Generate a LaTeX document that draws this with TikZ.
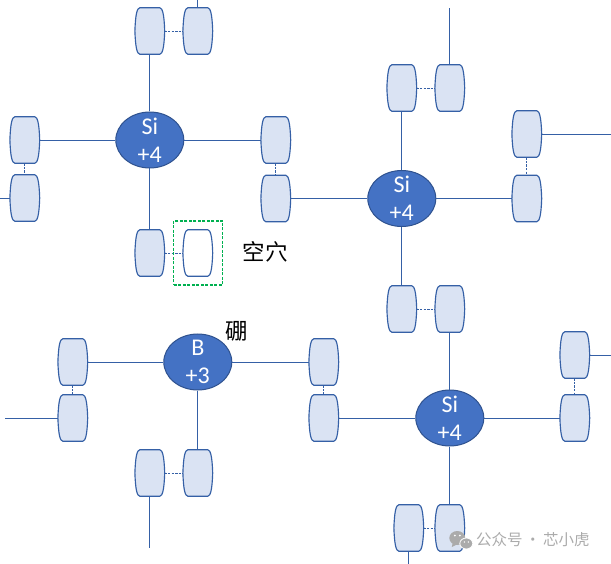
\documentclass[tikz,border=0pt]{standalone}
\usepackage{fontspec}
\setmainfont{Carlito}
\newfontfamily\cjk{Noto Sans CJK SC}
\usetikzlibrary{shapes.geometric}
\definecolor{lineblue}{HTML}{3560A6}
\definecolor{cellfill}{HTML}{DAE3F3}
\definecolor{atomfill}{HTML}{4472C4}
\definecolor{atomline}{HTML}{2F528F}
\definecolor{holegreen}{HTML}{00B050}
\definecolor{markgrey}{HTML}{ABABAB}
\tikzset{
  x=1pt,y=-1pt,
  bond/.style={draw=lineblue,line width=0.9pt},
  pairlink/.style={draw=lineblue,line width=0.9pt,dash pattern=on 2.4pt off 1.2pt},
  atom/.style={ellipse,draw=atomline,fill=atomfill,line width=1pt,minimum width=68pt,minimum height=56pt,
    inner xsep=-6pt,inner ysep=-16pt,
    text=white,align=center,font=\fontsize{24}{28}\selectfont},
  cellbox/.style={rectangle,minimum width=29pt,minimum height=46.5pt,inner sep=0pt,outer sep=0pt},
  barrel/.style={draw=lineblue,line width=1.15pt,fill=cellfill},
  holebox/.style={rectangle,draw=holegreen,line width=1.1pt,dash pattern=on 3pt off 1.5pt},
  cjklabel/.style={font=\cjk\fontsize{22.5}{26}\selectfont,text=black,inner sep=0pt},
  wmtext/.style={font=\cjk\fontsize{15.5}{18}\selectfont,text=markgrey,inner sep=0pt,anchor=west},
}
\newcommand{\cellat}[4][cellfill]{%
  \node[cellbox] (#2) at (#3,#4) {};
  \draw[barrel,fill=#1]
    ([xshift=4.5pt]#2.north west) -- ([xshift=-4.5pt]#2.north east)
    .. controls ([xshift=-1.8pt,yshift=-0.5pt]#2.north east) and ([xshift=-0.2pt,yshift=-6pt]#2.north east) .. ([xshift=0.4pt]#2.east)
    .. controls ([xshift=-0.2pt,yshift=6pt]#2.south east) and ([xshift=-1.8pt,yshift=0.5pt]#2.south east) .. ([xshift=-4.5pt]#2.south east)
    -- ([xshift=4.5pt]#2.south west)
    .. controls ([xshift=1.8pt,yshift=0.5pt]#2.south west) and ([xshift=0.2pt,yshift=6pt]#2.south west) .. ([xshift=-0.4pt]#2.west)
    .. controls ([xshift=0.2pt,yshift=-6pt]#2.north west) and ([xshift=1.8pt,yshift=-0.5pt]#2.north west) .. cycle;
}
\begin{document}
\begin{tikzpicture}
\useasboundingbox (0.2,0) rectangle (611.2,564);
% free ends
\coordinate (e1) at (198,0);
\coordinate (e2) at (0.2,198);
\coordinate (e3) at (450,8);
\coordinate (e4) at (611.2,134);
\coordinate (e5) at (611.2,355);
\coordinate (e6) at (409,564);
\coordinate (e7) at (5,418);
\coordinate (e8) at (150,548);
% atoms
\node[atom] (si1) at (150,140) {Si\\+4};
\node[atom] (si2) at (402,198.5) {Si\\+4};
\node[atom] (si3) at (450,418) {Si\\+4};
\node[atom] (b) at (198,362) {B\\+3};
% electrons
\cellat{a1}{150}{31}\cellat{a2}{198}{31}
\cellat{a3}{276}{140}\cellat{a4}{276}{198.5}
\cellat{a5}{25}{140}\cellat{a6}{25}{198}
\cellat{a7}{150}{253}\cellat[white]{a8}{198}{253}
\cellat{c1}{402}{88}\cellat{c2}{450}{88}
\cellat{c3}{527}{134}\cellat{c4}{527}{198.5}
\cellat{c5}{402}{309}\cellat{c6}{450}{309}
\cellat{d1}{575}{355}\cellat{d2}{575}{418}
\cellat{d3}{324}{362}\cellat{d4}{324}{418}
\cellat{d5}{409}{528}\cellat{d6}{450}{528}
\cellat{f1}{73}{362}\cellat{f2}{73}{418}
\cellat{f3}{150}{473}\cellat{f4}{198}{473}
% bonds
\draw[bond] (si1) -- (a1);
\draw[bond] (si1) -- (a3);
\draw[bond] (si1) -- (a5);
\draw[bond] (si1) -- (a7);
\draw[bond] (a2.north) -- (e1);
\draw[bond] (a6.west) -- (e2);
\draw[bond] (si2) -- (a4);
\draw[bond] (si2) -- (c1);
\draw[bond] (si2) -- (c4);
\draw[bond] (si2) -- (c5);
\draw[bond] (c2.north) -- (e3);
\draw[bond] (c3.east) -- (e4);
\draw[bond] (si3) -- (c6);
\draw[bond] (si3) -- (d2);
\draw[bond] (si3) -- (d4);
\draw[bond] (si3) -- (d6);
\draw[bond] (d1.east) -- (e5);
\draw[bond] (d5.south) -- (e6);
\draw[bond] (b) -- (f1);
\draw[bond] (b) -- (d3);
\draw[bond] (b) -- (f4);
\draw[bond] (f2.west) -- (e7);
\draw[bond] (f3.south) -- (e8);
% shared pair links
\draw[pairlink] (a1) -- (a2);
\draw[pairlink] (a3) -- (a4);
\draw[pairlink] (a5) -- (a6);
\draw[pairlink] (a7) -- (a8);
\draw[pairlink] (c1) -- (c2);
\draw[pairlink] (c3) -- (c4);
\draw[pairlink] (c5) -- (c6);
\draw[pairlink] (d1) -- (d2);
\draw[pairlink] (d3) -- (d4);
\draw[pairlink] (d5) -- (d6);
\draw[pairlink] (f1) -- (f2);
\draw[pairlink] (f3) -- (f4);
% hole marker
\node[holebox,minimum width=49pt,minimum height=64pt,inner sep=0pt] (hole) at (198.5,253) {};
\node[cjklabel] (holetext) at (265.5,252) {空穴};
\node[cjklabel] (borontext) at (237,331) {硼};
% watermark
\fill[markgrey] (457.5,538) ellipse (8pt and 7pt);
\fill[markgrey] (453,542) -- (452,547) -- (458,544) -- cycle;
\fill[markgrey,draw=white,line width=0.8pt] (466.5,543.5) ellipse (6.5pt and 5.5pt);
\fill[white] (455,535.5) circle (1pt) (460,535.5) circle (1pt) (464.5,542) circle (0.8pt) (468.5,542) circle (0.8pt);
\node[wmtext] (wm) at (476,540) {公众号\,·\,芯小虎};
\end{tikzpicture}
\end{document}
